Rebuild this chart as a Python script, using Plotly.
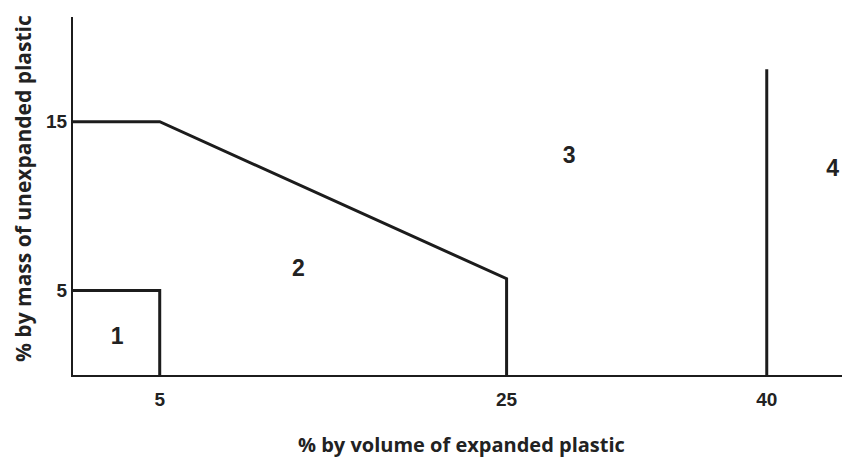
import plotly.graph_objects as go

# Boundary of zone 1 (small box at the origin)
zone1_x = [0, 5, 5]
zone1_y = [5, 5, 0]

# Boundary of zone 2 (upper limit)
zone2_x = [0, 5, 25, 25]
zone2_y = [15, 15, 5.7, 0]

# Boundary between zones 3 and 4
zone4_x = [40, 40]
zone4_y = [0, 18.1]

# Zone labels
zone_labels = ["1", "2", "3", "4"]
zone_label_x = [2.55, 13.0, 28.6, 43.8]
zone_label_y = [2.2, 6.2, 12.9, 12.1]

x_ticks = [5, 25, 40]
y_ticks = [5, 15]

x_title = "% by volume of expanded plastic"
y_title = "% by mass of unexpanded plastic"

line_color = "#1c1c1c"
text_color = "#222222"

fig = go.Figure()
for xs, ys in [(zone1_x, zone1_y), (zone2_x, zone2_y), (zone4_x, zone4_y)]:
    fig.add_trace(go.Scatter(x=xs, y=ys, mode="lines",
                             line=dict(color=line_color, width=3),
                             cliponaxis=False, showlegend=False,
                             hoverinfo="skip"))

fig.add_trace(go.Scatter(x=zone_label_x, y=zone_label_y, mode="text",
                         text=zone_labels, cliponaxis=False,
                         textfont=dict(family="Liberation Sans", size=23,
                                       color=text_color, weight="bold"),
                         textposition="middle center",
                         showlegend=False, hoverinfo="skip"))

# The page body has an 8px margin, so the figure is 8px smaller
fig.update_layout(
    width=842, height=449,
    margin=dict(l=65, r=0, t=9, b=82),
    paper_bgcolor="white", plot_bgcolor="white",
    font=dict(family="Liberation Sans", color=text_color),
    xaxis=dict(range=[0, 44.8], tickvals=x_ticks,
               ticktext=[str(v) for v in x_ticks],
               showgrid=False, zeroline=False, showline=True,
               linecolor=line_color, linewidth=2, ticks="",
               ticklabelstandoff=6,
               tickfont=dict(family="Liberation Sans", size=19,
                             color=text_color, weight="bold")),
    yaxis=dict(range=[0, 21.2], tickvals=y_ticks,
               ticktext=[str(v) for v in y_ticks],
               showgrid=False, zeroline=False, showline=True,
               linecolor=line_color, linewidth=2, ticks="",
               ticklabelstandoff=0,
               tickfont=dict(family="Liberation Sans", size=19,
                             color=text_color, weight="bold")),
    annotations=[
        dict(text=x_title, xref="paper", yref="paper", x=0.5, y=0,
             xanchor="center", yanchor="middle", yshift=-69,
             showarrow=False,
             font=dict(family="Open Sans", size=20, color=text_color,
                       weight="bold")),
        dict(text=y_title, xref="paper", yref="paper", x=0, y=0.5,
             xanchor="center", yanchor="middle", xshift=-50, yshift=7,
             textangle=-90, showarrow=False,
             font=dict(family="Open Sans", size=21, color=text_color,
                       weight="bold")),
    ],
)

fig.write_html("out.html")
